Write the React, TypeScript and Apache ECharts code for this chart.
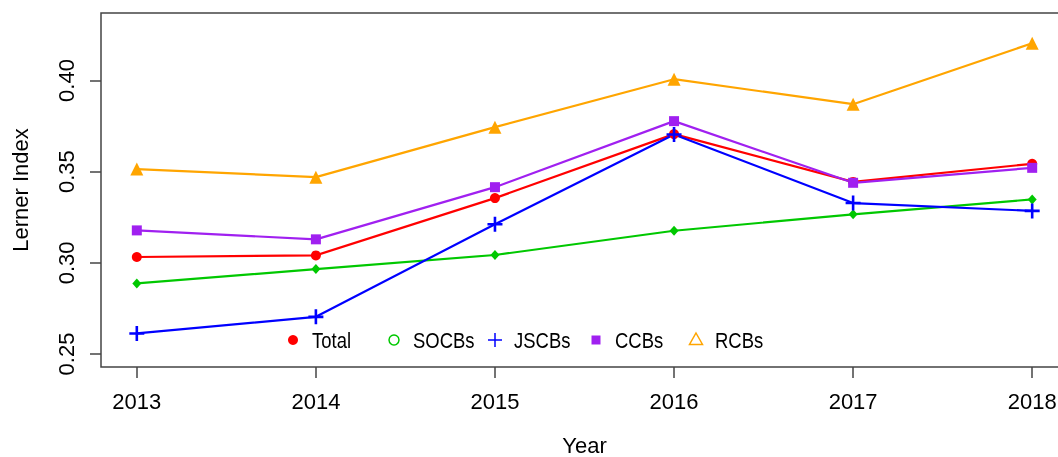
import React, { useEffect, useRef } from "react";
import * as echarts from "echarts";

const years = [2013, 2014, 2015, 2016, 2017, 2018];
const yTicks = [0.25, 0.3, 0.35, 0.4];
const total = [0.3032, 0.3041, 0.3355, 0.3706, 0.3444, 0.3543];
const socbs = [0.2887, 0.2966, 0.3043, 0.3176, 0.3266, 0.3348];
const jscbs = [0.2613, 0.2704, 0.3212, 0.3704, 0.3328, 0.3285];
const ccbs = [0.3178, 0.3129, 0.3415, 0.3777, 0.3439, 0.3521];
const rcbs = [0.3514, 0.347, 0.3744, 0.4007, 0.387, 0.4204];
const legendNames = ["Total", "SOCBs", "JSCBs", "CCBs", "RCBs"];

const FONT = "'Liberation Sans', Arial, sans-serif";
const PLUS = "path://M6.2,0H8.8V6.2H15V8.8H8.8V15H6.2V8.8H0V6.2H6.2Z";

export default function App() {
  const ref = useRef<HTMLDivElement>(null);
  useEffect(() => {
    if (!ref.current) return;
    const chart = echarts.init(ref.current, undefined, { renderer: "svg" });
    const pairs = (vals: number[]) => years.map((y, i) => [y, vals[i]]);
    const mk = (name: string, vals: number[], color: string, symbol: string, size: any) => ({
      name,
      type: "line",
      data: pairs(vals),
      symbol,
      symbolSize: size,
      showSymbol: true,
      lineStyle: { color, width: 2.2 },
      itemStyle: { color, borderWidth: 0 },
      emphasis: { disabled: true },
    });
    const lx = [293, 394, 495, 596, 696];
    const ly = 340;
    chart.setOption({
      animation: false,
      textStyle: { fontFamily: FONT },
      grid: {
        left: 101,
        right: -10,
        top: 13,
        bottom: 90,
        outerBoundsMode: "none",
        containLabel: false,
        show: true,
        borderColor: "#444",
        borderWidth: 1.5,
      },
      xAxis: {
        type: "value",
        min: 2012.8,
        max: 2018.2,
        name: "Year",
        nameLocation: "middle",
        nameGap: 67,
        nameTextStyle: { fontSize: 22, color: "#000", fontFamily: FONT },
        axisLine: { show: false },
        splitLine: { show: false },
        axisTick: { show: true, length: 11, customValues: years, lineStyle: { color: "#444", width: 1.5 } },
        axisLabel: {
          customValues: years,
          fontSize: 22,
          color: "#000",
          margin: 23,
          fontFamily: FONT,
          formatter: (v: number) => String(v),
        },
      },
      yAxis: {
        type: "value",
        min: 0.2429,
        max: 0.437,
        name: "Lerner Index",
        nameLocation: "middle",
        nameGap: 70,
        nameTextStyle: { fontSize: 22, color: "#000", fontFamily: FONT },
        axisLine: { show: false },
        splitLine: { show: false },
        axisTick: { show: true, length: 11, customValues: yTicks, lineStyle: { color: "#444", width: 1.5 } },
        axisLabel: {
          customValues: yTicks,
          fontSize: 22,
          color: "#000",
          rotate: 90,
          margin: 24,
          fontFamily: FONT,
          formatter: (v: number) => v.toFixed(2),
        },
      },
      series: [
        mk("RCBs", rcbs, "#FFA500", "triangle", 13),
        mk("SOCBs", socbs, "#00C800", "diamond", [9, 10]),
        mk("Total", total, "#FF0000", "circle", 10),
        mk("CCBs", ccbs, "#A020F0", "rect", 10),
        mk("JSCBs", jscbs, "#0000FF", PLUS, 15),
      ],
      graphic: [
        { type: "circle", shape: { cx: lx[0], cy: ly, r: 5 }, style: { fill: "#FF0000" } },
        { type: "circle", shape: { cx: lx[1], cy: ly, r: 5 }, style: { fill: "none", stroke: "#00C800", lineWidth: 1.5 } },
        { type: "line", shape: { x1: lx[2] - 7, y1: ly, x2: lx[2] + 7, y2: ly }, style: { stroke: "#0000FF", lineWidth: 1.5 } },
        { type: "line", shape: { x1: lx[2], y1: ly - 7, x2: lx[2], y2: ly + 7 }, style: { stroke: "#0000FF", lineWidth: 1.5 } },
        { type: "rect", shape: { x: lx[3] - 4.5, y: ly - 4.5, width: 9, height: 9 }, style: { fill: "#A020F0" } },
        {
          type: "polygon",
          shape: { points: [[lx[4], ly - 7], [lx[4] + 6.5, ly + 4.5], [lx[4] - 6.5, ly + 4.5]] },
          style: { fill: "none", stroke: "#FFA500", lineWidth: 1.5 },
        },
        ...legendNames.map((n, i) => ({
          type: "text",
          x: lx[i] + 19,
          y: ly,
          scaleX: 0.84,
          style: { text: n, fontSize: 22, fill: "#000", fontFamily: FONT, verticalAlign: "middle", align: "left" },
        })),
      ],
    });
    return () => chart.dispose();
  }, []);
  return <div ref={ref} style={{ position: "fixed", left: 0, top: 0, width: 1058, height: 457 }} />;
}
